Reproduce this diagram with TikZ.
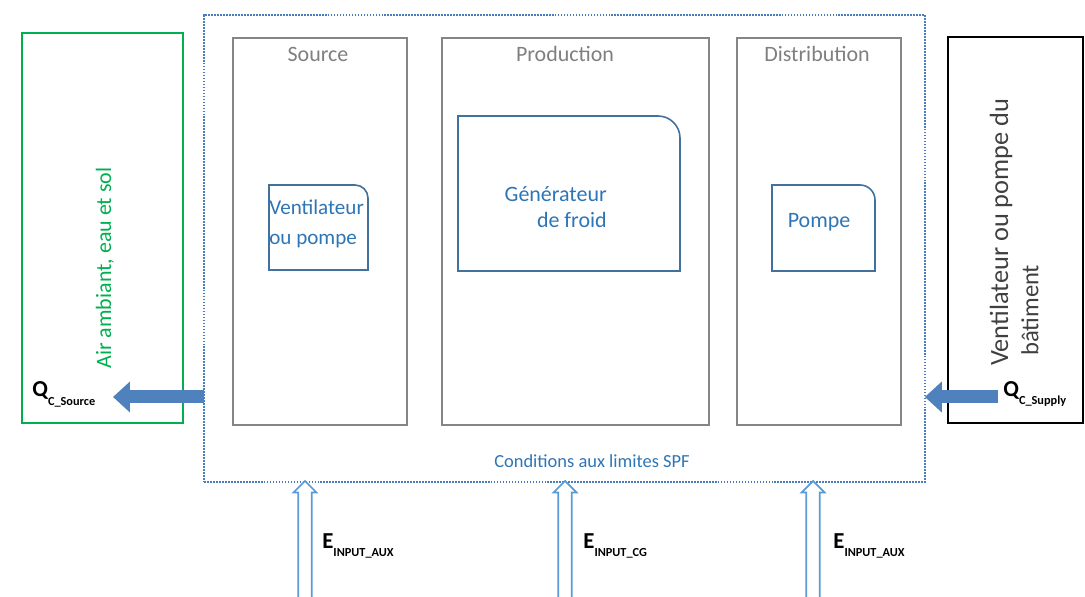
\documentclass[tikz,border=0pt]{standalone}
\usepackage{fontspec}
\setmainfont{Carlito}
\usetikzlibrary{arrows.meta,shapes.arrows}
\definecolor{spfblue}{HTML}{4A7EBB}
\definecolor{zonegray}{HTML}{858585}
\definecolor{titlegray}{HTML}{7F7F7F}
\definecolor{devblue}{HTML}{41719C}
\definecolor{devtxt}{HTML}{2E75B6}
\definecolor{ambgreen}{HTML}{00B050}
\definecolor{flowblue}{HTML}{4F81BD}
\definecolor{inblue}{HTML}{5B9BD5}
\definecolor{bldgray}{HTML}{404040}
\newcommand{\flowlab}[2]{{\fontsize{13}{15}\selectfont\bfseries #1\raisebox{-0.8ex}{\fontsize{7}{8}\selectfont #2}}}

\begin{document}
\begin{tikzpicture}[x=0.02cm,y=-0.02cm,
  zone/.style={draw=zonegray, line width=0.9pt, inner sep=0pt, outer sep=0pt, anchor=north west},
  ztitle/.style={text=titlegray, font=\fontsize{12.5}{14}\selectfont},
  spfzone/.style={draw=spfblue, line width=1.4pt, dash pattern=on 1pt off 0.7pt, inner sep=0pt, outer sep=0pt, anchor=north west},
  devline/.style={draw=devblue, line width=0.9pt},
  devtext/.style={text=devtxt, inner sep=0pt},
  heatflow/.style={draw=flowblue, line width=0.26cm, -{Triangle[length=0.34cm,width=0.6cm]}},
  inarrow/.style={single arrow, draw=inblue, line width=1pt, fill=white, inner sep=3.3pt, outer sep=0pt,
    single arrow head extend=2.8pt, minimum height=2.5cm, rotate=90, anchor=tip}]
\useasboundingbox (0,0) rectangle (1085,597);
\node[spfzone, minimum width=14.42cm, minimum height=9.34cm] (spf) at (204,15) {};
\node[zone, minimum width=3.48cm, minimum height=7.74cm] (srczone) at (233,38) {};
\node[zone, minimum width=5.34cm, minimum height=7.74cm] (prodzone) at (442,38) {};
\node[zone, minimum width=3.28cm, minimum height=7.74cm] (distzone) at (737,38) {};
\node[ztitle] (srctitle) at (318,54) {Source};
\node[ztitle] (prodtitle) at (565,54) {Production};
\node[ztitle] (disttitle) at (817,54) {Distribution};
\draw[devline] (269,270) -- (269,185) -- (355,185) arc[start angle=270, end angle=360, radius=13] -- (368,270) -- cycle;
\node[devtext, anchor=west, align=left, font=\fontsize{12}{17}\selectfont] (fan) at (269,224) {Ventilateur\\ou pompe};
\draw[devline] (458,271) -- (458,116) -- (658,116) arc[start angle=270, end angle=360, radius=22] -- (680,271) -- cycle;
\node[devtext, anchor=east, align=right, font=\fontsize{12.5}{14.5}\selectfont] (gen) at (607,207) {Générateur\\de froid};
\draw[devline] (772,271) -- (772,185) -- (860,185) arc[start angle=270, end angle=360, radius=15] -- (875,271) -- cycle;
\node[devtext, font=\fontsize{12.5}{14}\selectfont] (pump) at (819,222) {Pompe};
\node[devtext, font=\fontsize{10.5}{12}\selectfont] (spflab) at (592,461) {Conditions aux limites SPF};
\node[zone, draw=ambgreen, minimum width=3.22cm, minimum height=7.8cm] (ambient) at (22,33) {};
\node[text=ambgreen, rotate=90, font=\fontsize{12.5}{14}\selectfont] (ambtext) at (105,268) {Air ambiant, eau et sol};
\node[zone, draw=black, line width=1pt, minimum width=2.7cm, minimum height=7.72cm] (building) at (948,37) {};
\node[text=bldgray, rotate=90, anchor=west, font=\fontsize{15}{17}\selectfont] (bldtext) at (1001,372) {Ventilateur ou pompe du};
\node[text=bldgray, rotate=90, anchor=west, font=\fontsize{14}{16}\selectfont] (bldtext2) at (1030,362) {bâtiment};
\node[anchor=west, inner sep=0pt] (qsrc) at (32,394) {\flowlab{Q}{C\_Source}};
\node[anchor=west, inner sep=0pt] (qsup) at (1003,394) {\flowlab{Q}{C\_Supply}};
\coordinate (srctip) at (113,397);
\coordinate (suptail) at (998,397);
\draw[heatflow] (spf.west |- srctip) -- (srctip);
\draw[heatflow] (suptail) -- (spf.east |- suptail);
\node[inarrow] (ein1) at (305,481) {};
\node[inarrow] (ein2) at (565,481) {};
\node[inarrow] (ein3) at (813,481) {};
\node[anchor=west, inner sep=0pt] (eaux1) at (322,546) {\flowlab{E}{INPUT\_AUX}};
\node[anchor=west, inner sep=0pt] (ecg) at (583,546) {\flowlab{E}{INPUT\_CG}};
\node[anchor=west, inner sep=0pt] (eaux2) at (833,546) {\flowlab{E}{INPUT\_AUX}};
\end{tikzpicture}
\end{document}
